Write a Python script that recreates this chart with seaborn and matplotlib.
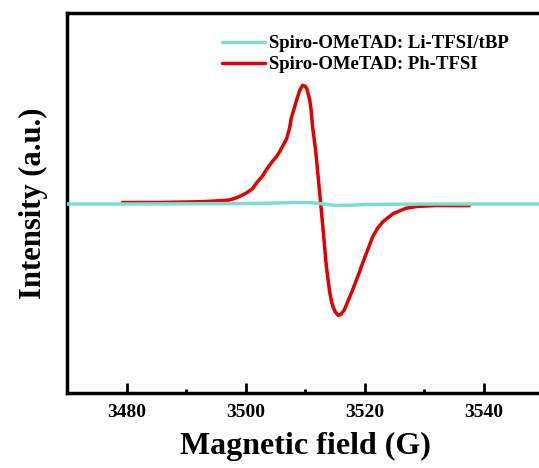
import numpy as np
import pandas as pd
import matplotlib
matplotlib.use("Agg")
import matplotlib.pyplot as plt
import seaborn as sns
from matplotlib.ticker import MultipleLocator

# ---- data (field in G, intensity in a.u.) ----
ph_field = [3479.3, 3485.6, 3492.3, 3494.8, 3497.3, 3498.5, 3499.5, 3500.2,
            3501.2, 3501.8, 3502.9, 3503.5, 3504.5, 3505.2, 3505.7, 3506.3,
            3506.9, 3507.4, 3507.7, 3508.2, 3508.6, 3509.1, 3509.6, 3510.0,
            3510.3, 3510.8, 3511.0, 3511.3, 3511.6, 3511.8, 3512.2, 3512.6,
            3513.0, 3513.6, 3514.1, 3514.4, 3514.7, 3515.1, 3515.6, 3516.1,
            3516.6, 3518.0, 3519.2, 3519.7, 3520.3, 3521.4, 3522.2, 3523.1,
            3524.8, 3525.9, 3527.0, 3528.7, 3529.2, 3532.1, 3537.6]
ph_intensity = [0.013, 0.013, 0.019, 0.025, 0.034, 0.053, 0.076, 0.095,
                0.130, 0.175, 0.240, 0.290, 0.360, 0.400, 0.440, 0.496,
                0.551, 0.642, 0.729, 0.814, 0.884, 0.962, 1.006, 1.000,
                0.979, 0.881, 0.811, 0.644, 0.528, 0.446, 0.237, 0.023,
                -0.195, -0.534, -0.729, -0.814, -0.870, -0.915, -0.945, -0.932,
                -0.898, -0.729, -0.570, -0.500, -0.420, -0.275, -0.205, -0.150,
                -0.082, -0.059, -0.036, -0.022, -0.020, -0.013, -0.014]

li_field = [3470, 3480, 3490, 3500, 3505, 3508, 3511, 3513, 3515, 3518,
            3520, 3525, 3530, 3540, 3550]
li_intensity = [0.0, 0.0, 0.002, 0.004, 0.008, 0.013, 0.012, 0.0, -0.012,
                -0.010, -0.004, -0.002, 0.0, 0.0, 0.0]

labels = ["Spiro-OMeTAD: Li-TFSI/tBP", "Spiro-OMeTAD: Ph-TFSI"]
colors = ["#80DCD2", "#E00000"]

li_df = pd.DataFrame({"field": li_field, "intensity": li_intensity})
ph_df = pd.DataFrame({"field": ph_field, "intensity": ph_intensity})

sns.set_style("ticks", {"axes.edgecolor": "black", "text.color": "black",
                        "xtick.color": "black", "axes.labelcolor": "black"})
plt.rcParams["font.family"] = ["Liberation Serif", "DejaVu Serif"]
plt.rcParams["font.weight"] = "bold"

fig = plt.figure(figsize=(5.39, 4.68), dpi=100)
ax = fig.add_axes([67 / 539, 1 - 393 / 468, 476 / 539, 380 / 468])

sns.lineplot(data=li_df, x="field", y="intensity", color=colors[0], lw=2.5,
             label=labels[0], ax=ax, zorder=3)
sns.lineplot(data=ph_df, x="field", y="intensity", color=colors[1], lw=2.5,
             label=labels[1], ax=ax, zorder=2)

ax.set_xlim(3470, 3550)
ax.set_ylim(-1.602, 1.619)
ax.xaxis.set_major_locator(MultipleLocator(20))
ax.xaxis.set_minor_locator(MultipleLocator(10))
ax.set_yticks([])
ax.tick_params(axis="x", which="major", direction="in", length=7, width=2,
               labelsize=14, pad=8, colors="black")
ax.tick_params(axis="x", which="minor", direction="in", length=3, width=2,
               colors="black")
for lbl in ax.get_xticklabels():
    lbl.set_fontweight("bold")
for sp in ax.spines.values():
    sp.set_linewidth(2.5)
    sp.set_color("black")
    sp.set_visible(True)

ax.set_xlabel("Magnetic field (G)", fontsize=23, fontweight="bold", labelpad=8)
ax.set_ylabel("Intensity (a.u.)", fontsize=22, fontweight="bold", labelpad=14)

leg = ax.legend(loc="upper left", bbox_to_anchor=(0.3256, 0.942), frameon=False,
                fontsize=13.5, handlelength=2.3, handletextpad=0.2,
                labelspacing=0.22, borderpad=0, borderaxespad=0)
for t in leg.get_texts():
    t.set_fontweight("bold")
    t.set_color("black")

fig.savefig("out.png", dpi=100)
